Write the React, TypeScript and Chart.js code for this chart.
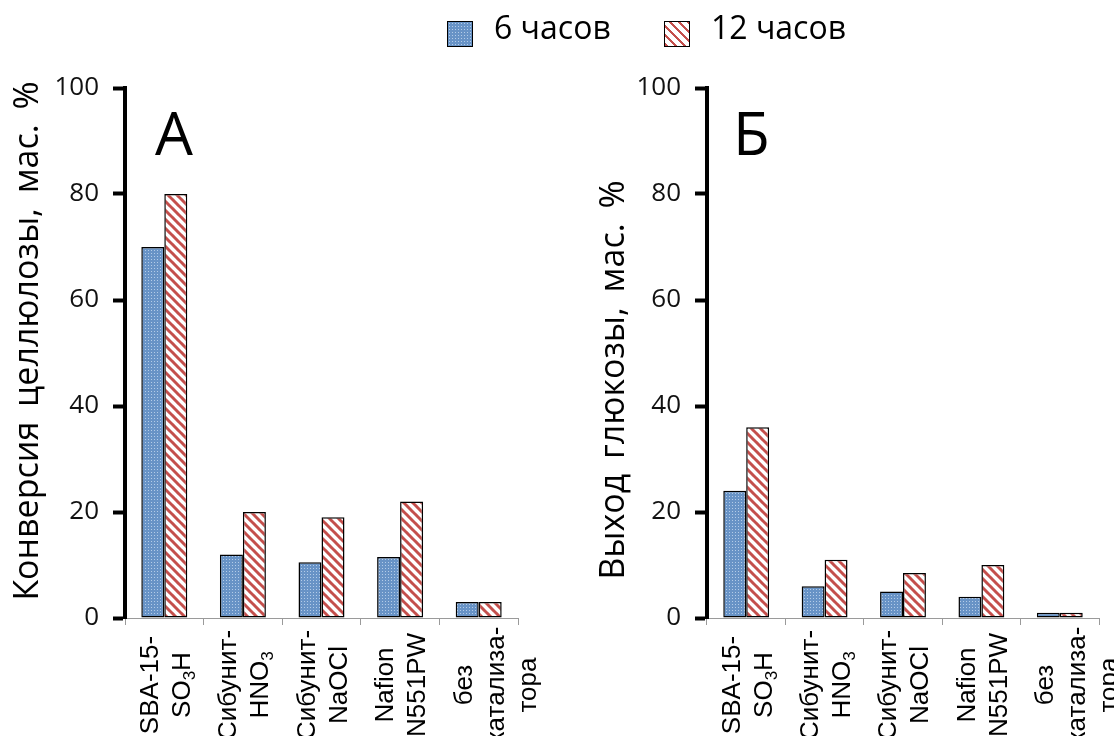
import React, { useEffect, useRef } from "react";
import { Chart, registerables } from "chart.js";

Chart.register(...registerables);

// ---------- data ----------
const categories: string[][] = [
  ["SBA-15-", "SO₃H"],
  ["Сибунит-", "HNO₃"],
  ["Сибунит-", "NaOCl"],
  ["Nafion", "N551PW"],
  ["без", "катализа-", "тора"],
];
const seriesLabels = ["6 часов", "12 часов"];
const conversion6h = [70, 12, 10.5, 11.5, 3];
const conversion12h = [80, 20, 19, 22, 3];
const glucose6h = [24, 6, 5, 4, 1];
const glucose12h = [36, 11, 8.5, 10, 1];
const yMin = 0;
const yMax = 100;
const yStep = 20;
const titleA = "Конверсия целлюлозы, мас. %";
const titleB = "Выход глюкозы, мас. %";
const panelA = "А";
const panelB = "Б";

const SANS = "'Open Sans', 'Noto Sans', sans-serif";
const ARIAL = "'Liberation Sans', Arial, sans-serif";

function makeBluePattern(): CanvasPattern | string {
  const c = document.createElement("canvas");
  c.width = 3;
  c.height = 3;
  const g = c.getContext("2d");
  if (!g) return "#6f98c8";
  g.fillStyle = "#6893c6";
  g.fillRect(0, 0, 3, 3);
  g.fillStyle = "#b4cce8";
  g.fillRect(1, 1, 1, 1);
  const p = g.createPattern(c, "repeat");
  return p || "#6f98c8";
}

function makeRedPattern(): CanvasPattern | string {
  const c = document.createElement("canvas");
  c.width = 9;
  c.height = 9;
  const g = c.getContext("2d");
  if (!g) return "#e08080";
  g.fillStyle = "#ffffff";
  g.fillRect(0, 0, 9, 9);
  g.strokeStyle = "#c44f4c";
  g.lineWidth = 3;
  for (const off of [-9, 0, 9]) {
    g.beginPath();
    g.moveTo(off - 1, -1);
    g.lineTo(off + 10, 10);
    g.stroke();
  }
  const p = g.createPattern(c, "repeat");
  return p || "#e08080";
}

const SUB_RE = /[₀-₉]/;
function splitSub(line: string): { t: string; sub: boolean }[] {
  const out: { t: string; sub: boolean }[] = [];
  for (const ch of line) {
    const sub = SUB_RE.test(ch);
    const t = sub ? String(ch.charCodeAt(0) - 0x2080) : ch;
    if (out.length && out[out.length - 1].sub === sub) out[out.length - 1].t += t;
    else out.push({ t, sub });
  }
  return out;
}

function makeTextPlugin(title: string, titleX: number, titleY: number) {
  return {
    id: "customText",
    afterDraw(chart: any) {
      const ctx: any = chart.ctx;
      const xs = chart.scales.x;
      const fs = 26;
      const subFs = 17;
      ctx.save();
      ctx.fillStyle = "#000";
      ctx.textBaseline = "alphabetic";
      ctx.textAlign = "left";
      categories.forEach((lines, i) => {
        const cx = xs.getPixelForValue(i);
        lines.forEach((line, j) => {
          const x = cx - 16 + 32 * j;
          const segs = splitSub(line);
          let total = 0;
          const widths = segs.map((s) => {
            ctx.font = `${s.sub ? subFs : fs}px ${ARIAL}`;
            const w = ctx.measureText(s.t).width;
            total += w;
            return w;
          });
          ctx.save();
          ctx.translate(x, 685);
          ctx.rotate(-Math.PI / 2);
          let pos = -total / 2;
          segs.forEach((s, k) => {
            ctx.font = `${s.sub ? subFs : fs}px ${ARIAL}`;
            ctx.fillText(s.t, pos, s.sub ? 0.358 * fs + 5 : 0.358 * fs);
            pos += widths[k];
          });
          ctx.restore();
        });
      });
      // y axis title
      ctx.font = `34px ${SANS}`;
      ctx.textAlign = "center";
      if ("wordSpacing" in ctx) ctx.wordSpacing = "6px";
      ctx.save();
      ctx.translate(titleX, titleY);
      ctx.rotate(-Math.PI / 2);
      ctx.fillText(title, 0, 0.357 * 34);
      ctx.restore();
      ctx.restore();
    },
  };
}

function buildConfig(
  d6: number[],
  d12: number[],
  blue: any,
  red: any,
  yWidth: number,
  padRight: number,
  title: string,
  titleX: number,
  titleY: number
): any {
  return {
    type: "bar",
    data: {
      labels: categories,
      datasets: [
        {
          label: seriesLabels[0],
          data: d6,
          backgroundColor: blue,
          borderColor: "#000",
          borderWidth: 1.5,
          borderSkipped: false,
          categoryPercentage: 0.585,
          barPercentage: 1,
        },
        {
          label: seriesLabels[1],
          data: d12,
          backgroundColor: red,
          borderColor: "#000",
          borderWidth: 1.5,
          borderSkipped: false,
          categoryPercentage: 0.585,
          barPercentage: 1,
        },
      ],
    },
    options: {
      responsive: false,
      animation: false,
      devicePixelRatio: 1,
      layout: { padding: { left: 0, top: 88, right: padRight, bottom: 0 } },
      plugins: { legend: { display: false }, tooltip: { enabled: false } },
      scales: {
        x: {
          grid: {
            display: true,
            drawOnChartArea: false,
            drawTicks: true,
            tickLength: 7,
            color: "#9a9a9a",
            lineWidth: 1,
            offset: true,
          },
          border: { display: true, color: "#9a9a9a", width: 1 },
          ticks: { display: false },
          afterFit: (s: any) => {
            s.height = 118;
            s.paddingLeft = 0;
            s.paddingRight = 0;
          },
        },
        y: {
          min: yMin,
          max: yMax,
          ticks: {
            stepSize: yStep,
            font: { family: SANS, size: 26 },
            color: "#111",
            padding: 14,
          },
          grid: {
            display: true,
            drawOnChartArea: false,
            drawTicks: true,
            tickLength: 12,
            tickWidth: 4,
            tickColor: "#000",
            color: "#000",
          },
          border: { display: true, width: 4, color: "#000" },
          afterFit: (s: any) => {
            s.width = yWidth;
            s.paddingTop = 0;
            s.paddingBottom = 0;
          },
        },
      },
    },
    plugins: [makeTextPlugin(title, titleX, titleY)],
  };
}

export default function App() {
  const refA = useRef<HTMLCanvasElement | null>(null);
  const refB = useRef<HTMLCanvasElement | null>(null);

  useEffect(() => {
    const blue = makeBluePattern();
    const red = makeRedPattern();
    let a: Chart | null = null;
    let b: Chart | null = null;
    if (refA.current) {
      a = new Chart(
        refA.current,
        buildConfig(conversion6h, conversion12h, blue, red, 125, 39, titleA, 26, 341)
      );
    }
    if (refB.current) {
      b = new Chart(
        refB.current,
        buildConfig(glucose6h, glucose12h, blue, red, 150, 15, titleB, 55, 380)
      );
    }
    return () => {
      if (a) a.destroy();
      if (b) b.destroy();
    };
  }, []);

  const textStyle: React.CSSProperties = {
    position: "absolute",
    fontFamily: SANS,
    color: "#000",
    whiteSpace: "nowrap",
  };

  return (
    <div
      style={{
        position: "absolute",
        left: 0,
        top: 0,
        width: 1114,
        height: 736,
        background: "#fff",
        overflow: "hidden",
      }}
    >
      <canvas
        ref={refA}
        width={557}
        height={736}
        style={{ position: "absolute", left: 0, top: 0, width: 557, height: 736 }}
      />
      <canvas
        ref={refB}
        width={557}
        height={736}
        style={{ position: "absolute", left: 557, top: 0, width: 557, height: 736 }}
      />
      <div
        style={{
          position: "absolute",
          left: 447,
          top: 21,
          width: 26,
          height: 26,
          boxSizing: "border-box",
          border: "1.5px solid #000",
          backgroundColor: "#6893c6",
          backgroundImage: "radial-gradient(circle, #b4cce8 0.7px, transparent 0.9px)",
          backgroundSize: "3px 3px",
        }}
      />
      <div style={{ ...textStyle, left: 494, top: 11, fontSize: 32, lineHeight: "32px" }}>
        {seriesLabels[0]}
      </div>
      <div
        style={{
          position: "absolute",
          left: 664,
          top: 21,
          width: 26,
          height: 26,
          boxSizing: "border-box",
          border: "1.5px solid #000",
          backgroundImage:
            "repeating-linear-gradient(45deg, #c44f4c 0px, #c44f4c 2.2px, #ffffff 2.2px, #ffffff 6.4px)",
        }}
      />
      <div style={{ ...textStyle, left: 711, top: 11, fontSize: 32, lineHeight: "32px" }}>
        {seriesLabels[1]}
      </div>
      <div style={{ ...textStyle, left: 155, top: 102, fontSize: 60, lineHeight: "60px" }}>
        {panelA}
      </div>
      <div style={{ ...textStyle, left: 733, top: 102, fontSize: 60, lineHeight: "60px" }}>
        {panelB}
      </div>
    </div>
  );
}
